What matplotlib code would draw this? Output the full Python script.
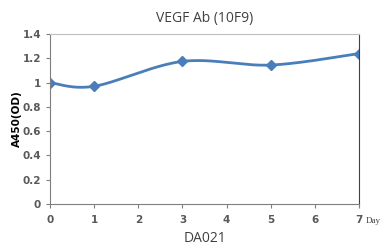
import numpy as np
import matplotlib
matplotlib.use("Agg")
import matplotlib.pyplot as plt

days = [0, 1, 3, 5, 7]
a450 = [1.0, 0.97, 1.175, 1.145, 1.24]
x_ticks = [0, 1, 2, 3, 4, 5, 6, 7]
y_ticks = [0, 0.2, 0.4, 0.6, 0.8, 1, 1.2, 1.4]
y_tick_labels = ["0", "0.2", "0.4", "0.6", "0.8", "1", "1.2", "1.4"]

line_color = "#4a7ebb"
grey = "#7f7f7f"
text_grey = "#595959"


def smooth(xs, ys, n=40):
    # Excel style smoothed line: cubic bezier segments with catmull-rom tangents
    p = np.column_stack([xs, ys]).astype(float)
    out = []
    for i in range(len(p) - 1):
        p0 = p[max(i - 1, 0)]
        p1 = p[i]
        p2 = p[i + 1]
        p3 = p[min(i + 2, len(p) - 1)]
        c1 = p1 + (p2 - p0) / 6
        c2 = p2 - (p3 - p1) / 6
        t = np.linspace(0, 1, n)[:, None]
        seg = ((1 - t) ** 3) * p1 + 3 * ((1 - t) ** 2) * t * c1 + 3 * (1 - t) * t ** 2 * c2 + t ** 3 * p2
        out.append(seg)
    out = np.vstack(out)
    return out[:, 0], out[:, 1]


fig = plt.figure(figsize=(3.82, 2.49), dpi=100)
ax = fig.add_axes([0.131, 0.181, 0.809, 0.682])

sx, sy = smooth(days, a450)
ax.plot(sx, sy, color=line_color, linewidth=2, solid_capstyle="round")
ax.plot(days, a450, linestyle="none", marker="D", markersize=5, color=line_color)

ax.set_xlim(0, 7)
ax.set_ylim(0, 1.4)
ax.set_xticks(x_ticks)
ax.set_yticks(y_ticks)
ax.set_yticklabels(y_tick_labels)

for side in ["left", "bottom", "right", "top"]:
    ax.spines[side].set_color("#bfbfbf")
    ax.spines[side].set_linewidth(0.8)
ax.spines["left"].set_color(grey)
ax.spines["bottom"].set_color(grey)
ax.spines["right"].set_color("#404040")

ax.tick_params(axis="both", direction="out", length=3, width=0.8, color=grey,
               labelsize=7.5, labelcolor=text_grey)
ax.tick_params(axis="x", pad=5)
for lbl in ax.get_xticklabels() + ax.get_yticklabels():
    lbl.set_fontweight("bold")
    lbl.set_family("DejaVu Sans")

ax.set_title("VEGF Ab (10F9)", fontsize=10, color="#404040", family="Open Sans", pad=9)
ax.set_ylabel("A450(OD)", fontsize=7.5, fontweight="bold", color="black", labelpad=0.5)
ax.set_xlabel("DA021", fontsize=10, color="#404040", family="Open Sans", labelpad=4)
ax.text(1.02, -0.1, "Day", transform=ax.transAxes, fontsize=6.5, family="Liberation Serif",
        color="#404040", ha="left", va="center")

fig.savefig("out.png", dpi=100)
